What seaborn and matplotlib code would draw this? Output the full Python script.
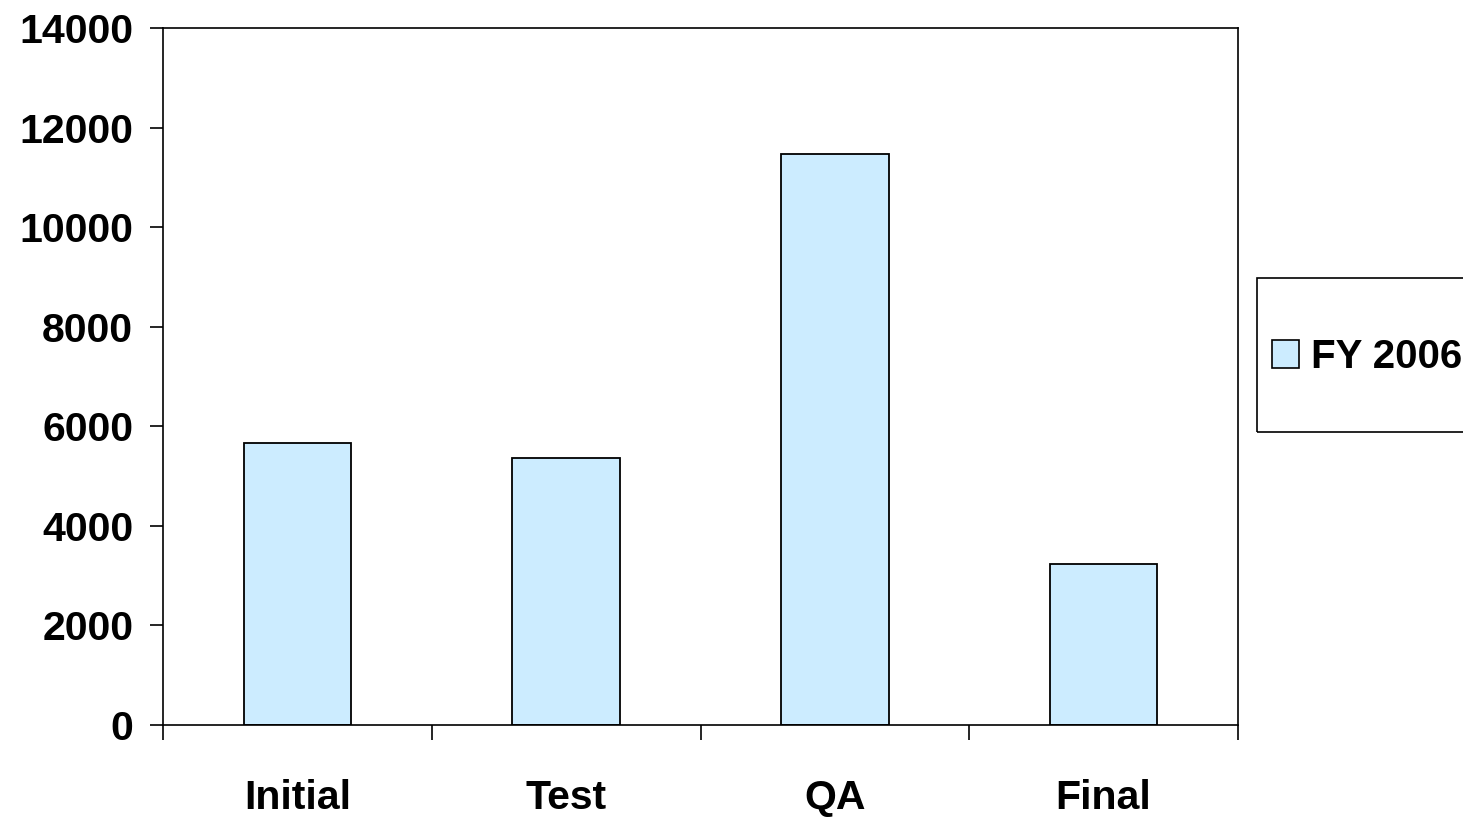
import matplotlib
matplotlib.use("Agg")
import matplotlib.pyplot as plt
import seaborn as sns
import pandas as pd
from matplotlib.patches import Rectangle, Patch

categories = ["Initial", "Test", "QA", "Final"]
values = [5660, 5360, 11470, 3235]
series_name = "FY 2006"
yticks = [0, 2000, 4000, 6000, 8000, 10000, 12000, 14000]

sns.set_style("white")
plt.rcParams['font.family'] = ['Liberation Sans', 'DejaVu Sans']
plt.rcParams['font.weight'] = 'bold'
plt.rcParams['text.color'] = 'black'

fig = plt.figure(figsize=(14.63, 8.17), dpi=100)
ax = fig.add_axes([163/1463, 1-725/817, (1238-163)/1463, (725-28)/817])

df = pd.DataFrame({"cat": categories, "val": values})
bar_color = "#CCECFF"
sns.barplot(data=df, x="cat", y="val", ax=ax, color=bar_color, width=0.4,
            edgecolor="black", linewidth=1.3, saturation=1)

ax.set_xlim(-0.5, len(categories) - 0.5)
ax.set_ylim(0, 14000)
ax.set_yticks(yticks)
ax.set_yticklabels([str(v) for v in yticks])
ax.set_xlabel("")
ax.set_ylabel("")

for s in ax.spines.values():
    s.set_visible(True)
    s.set_color("black")
    s.set_linewidth(1.2)

ax.tick_params(axis='y', which='major', left=True, length=9.5, width=1.2,
               direction='out', pad=12, labelsize=29.5, colors='black')
ax.tick_params(axis='x', which='major', bottom=False, length=0, pad=39,
               labelsize=29.5, colors='black')
ax.set_xticks([i - 0.5 for i in range(len(categories) + 1)], minor=True)
ax.tick_params(axis='x', which='minor', bottom=True, length=11, width=1.2,
               direction='out', color='black')
for lab in ax.get_xticklabels() + ax.get_yticklabels():
    lab.set_fontweight('bold')

# legend box
fig.patches.append(Rectangle((1257/1463, 1-432/817), 0.3, (432-278)/817,
                             transform=fig.transFigure, fill=False,
                             edgecolor='black', linewidth=1.2))
handle = Patch(facecolor=bar_color, edgecolor='black', linewidth=1.2)
leg = fig.legend([handle], [series_name], loc='center left',
           bbox_to_anchor=(1272/1463, 1-357/817), frameon=False,
           prop={'size': 29, 'weight': 'bold'}, handlelength=0.68,
           handleheight=0.68, handletextpad=0.3, borderpad=0, borderaxespad=0)
for t in leg.get_texts():
    t.set_color('black')

fig.savefig("out.png", dpi=100)
